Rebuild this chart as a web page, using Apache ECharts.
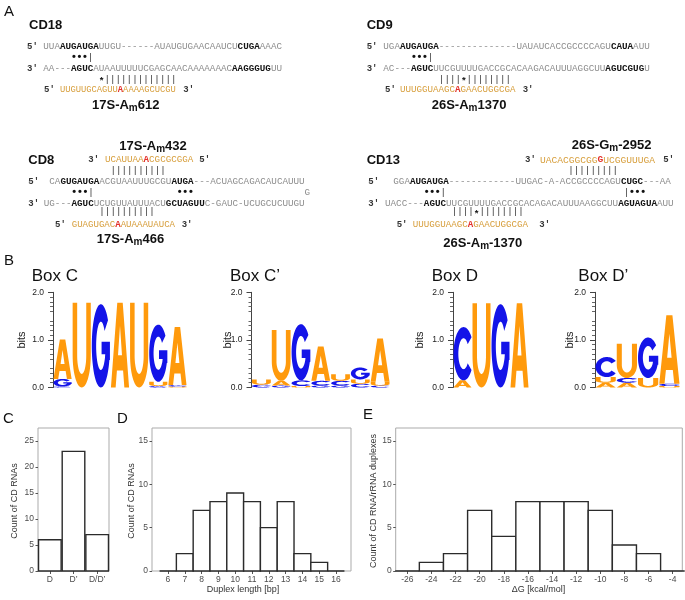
<!DOCTYPE html>
<html>
<head>
<meta charset="utf-8">
<title>C/D box RNAs</title>
<script src="https://cdn.jsdelivr.net/npm/echarts@6.0.0/dist/echarts.min.js"></script>
<style>
  html, body { margin: 0; padding: 0; background: #fff; }
  #chart { width: 685px; height: 600px; }
</style>
</head>
<body>
<div id="chart"></div>
<script>
// panel C: position of the box
const boxTypes = ['D', 'D’', 'D/D’'];
const boxTypeCounts = [6, 23, 7];
const boxCountTicks = [0, 5, 10, 15, 20, 25];

// panel D: duplex length
const duplexLengths = [6, 7, 8, 9, 10, 11, 12, 13, 14, 15, 16];
const duplexCounts = [0, 2, 7, 8, 9, 8, 5, 8, 2, 1, 0];

// panel E: free energy of the duplexes
const dgBins = [-26, -24, -22, -20, -18, -16, -14, -12, -10, -8, -6, -4];
const dgCounts = [0, 1, 2, 7, 4, 8, 8, 8, 7, 3, 2, 0];
const countTicks = [0, 5, 10, 15];

// panel B: logos, letters stacked bottom to top, heights in bits
const logoBoxC = [
  [['C', 0.02], ['G', 0.16], ['A', 0.83]],
  [['U', 1.78]],
  [['G', 1.75]],
  [['A', 1.78]],
  [['U', 1.78]],
  [['C', 0.03], ['U', 0.09], ['G', 1.2]],
  [['U', 0.02], ['C', 0.03], ['A', 1.22]]
];
const logoBoxC2 = [
  [['C', 0.06], ['U', 0.11]],
  [['G', 0.04], ['A', 0.1], ['U', 1.07]],
  [['U', 0.03], ['C', 0.12], ['G', 1.18]],
  [['G', 0.04], ['C', 0.1], ['A', 0.72]],
  [['G', 0.04], ['C', 0.1], ['U', 0.14]],
  [['C', 0.08], ['U', 0.09], ['G', 0.25]],
  [['C', 0.04], ['U', 0.08], ['A', 0.91]]
];
const logoBoxD = [
  [['A', 0.15], ['C', 1.12]],
  [['U', 1.77]],
  [['G', 1.75]],
  [['A', 1.77]]
];
const logoBoxD2 = [
  [['A', 0.1], ['U', 0.12], ['C', 0.42]],
  [['A', 0.1], ['C', 0.1], ['U', 0.72]],
  [['U', 0.2], ['G', 0.85]],
  [['U', 0.03], ['C', 0.05], ['A', 1.44]]
];
const logoTicks = [0, 1, 2];

// panel A: duplexes (g = loop, b = box, o = rRNA, r = modified nt)
const cd18Top = [['g', 'UUA'], ['b', 'AUGAUGA'], ['g', 'UUGU------AUAUGUGAACAAUCU'], ['b', 'CUGA'], ['g', 'AAAC']];
const cd18Bottom = [['g', 'AA---'], ['b', 'AGUC'], ['g', 'AUAAUUUUUCGAGCAACAAAAAAAC'], ['b', 'AAGGGUG'], ['g', 'UU']];
const cd18Rrna = [['o', 'UUGUUGCAGUU'], ['r', 'A'], ['o', 'AAAAGCUCGU']];

const cd9Top = [['g', 'UGA'], ['b', 'AUGAUGA'], ['g', '--------------UAUAUCACCGCCCCAGU'], ['b', 'CAUA'], ['g', 'AUU']];
const cd9Bottom = [['g', 'AC---'], ['b', 'AGUC'], ['g', 'UUCGUUUUGACCGCACAAGACAUUUAGGCUU'], ['b', 'AGUCGUG'], ['g', 'U']];
const cd9Rrna = [['o', 'UUUGGUAAGC'], ['r', 'A'], ['o', 'GAACUGGCGA']];

const cd8Top = [['g', 'CA'], ['b', 'GUGAUGA'], ['g', 'ACGUAAUUUGCGU'], ['b', 'AUGA'], ['g', '---ACUAGCAGACAUCAUUU']];
const cd8Bottom = [['g', 'UG---'], ['b', 'AGUC'], ['g', 'UCUGUUAUUUACU'], ['b', 'GCUAGUU'], ['g', 'C-GAUC-UCUGCUCUUGU']];
const cd8RrnaUp = [['o', 'UCAUUAA'], ['r', 'A'], ['o', 'CGCGCGGA']];
const cd8RrnaDown = [['o', 'GUAGUGAC'], ['r', 'A'], ['o', 'AUAAAUAUCA']];

const cd13Top = [['g', 'GGA'], ['b', 'AUGAUGA'], ['g', '------------UUGAC-A-ACCGCCCCAGU'], ['b', 'CUGC'], ['g', '---AA']];
const cd13Bottom = [['g', 'UACC---'], ['b', 'AGUC'], ['g', 'UUCGUUUUGACCGCACAGACAUUUAAGGCUU'], ['b', 'AGUAGUA'], ['g', 'AUU']];
const cd13RrnaUp = [['o', 'UACACGGCGG'], ['r', 'G'], ['o', 'UCGGUUUGA']];
const cd13RrnaDown = [['o', 'UUUGGUAAGC'], ['r', 'A'], ['o', 'GAACUGGCGA']];

const SANS = '"Liberation Sans", Arial, sans-serif';
const MONO = '"Liberation Mono", "DejaVu Sans Mono", monospace';
const PITCH = 5.55;
const LETTERS = ['A', 'C', 'G', 'U'];
const letterColors = { A: '#ff9a0c', U: '#ff9a0c', C: '#1414e8', G: '#1414e8' };

// letter outlines, stretched into each stack cell
function arcPoints(cx, cy, rx, ry, from, to, steps) {
  const pts = [];
  for (let i = 0; i <= steps; i++) {
    const a = (from + (to - from) * i / steps) * Math.PI / 180;
    pts.push([cx + rx * Math.cos(a), cy + ry * Math.sin(a)]);
  }
  return pts;
}
function outline(pts) {
  return 'M' + pts.map(p => p[0].toFixed(2) + ' ' + p[1].toFixed(2)).join(' L') + ' Z';
}
const glyphs = {
  A: outline([[0, 100], [35, 0], [65, 0], [100, 100], [74, 100], [67, 80], [33, 80], [26, 100]]) + ' ' +
     outline([[39, 62], [61, 62], [50, 27]]),
  C: outline(arcPoints(50, 50, 50, 50, -38, -322, 60).concat(arcPoints(50, 50, 26, 29, 38, 322, 60))),
  G: outline(arcPoints(50, 50, 50, 50, -38, -340, 60)
    .concat([[100, 67], [100, 45], [54, 45], [54, 60], [74, 60]], arcPoints(50, 50, 26, 29, 30, 322, 60))),
  U: outline([[0, 0], [25, 0], [25, 62]]
    .concat(arcPoints(50, 62, 25, 22, 180, 0, 30), [[75, 0], [100, 0], [100, 62]], arcPoints(50, 62, 50, 38, 0, 180, 30)))
};

function logoData(columns) {
  const out = [];
  columns.forEach((stack, pos) => {
    let base = 0;
    stack.forEach(([letter, bits]) => {
      out.push([pos, base, base + bits, LETTERS.indexOf(letter)]);
      base += bits;
    });
  });
  return out;
}

function renderLetter(params, api) {
  const lo = api.coord([api.value(0), api.value(1)]);
  const hi = api.coord([api.value(0) + 1, api.value(2)]);
  const letter = LETTERS[api.value(3)];
  return {
    type: 'path',
    shape: {
      pathData: glyphs[letter],
      x: lo[0] + 0.5, y: hi[1], width: hi[0] - lo[0] - 1, height: Math.max(lo[1] - hi[1], 0.3),
      layout: 'cover'
    },
    style: { fill: letterColors[letter] }
  };
}

const barStyle = { fill: '#fff', stroke: '#2b2b2b', lineWidth: 1.4 };
function binRenderer(width) {
  return function (params, api) {
    const p0 = api.coord([api.value(0) - width / 2, 0]);
    const p1 = api.coord([api.value(0) + width / 2, api.value(1)]);
    return {
      type: 'rect',
      shape: { x: p0[0], y: p1[1], width: p1[0] - p0[0], height: p0[1] - p1[1] },
      style: barStyle
    };
  };
}
function renderCategoryBar(params, api) {
  const p = api.coord([api.value(0), api.value(1)]);
  const base = api.coord([api.value(0), 0]);
  const w = api.size([1, 0])[0] * 0.955;
  return {
    type: 'rect',
    shape: { x: p[0] - w / 2, y: p[1], width: w, height: base[1] - p[1] },
    style: barStyle
  };
}

// ---- text helpers for panel A and labels ----
const elements = [];
function txt(text, x, y, font, fill, align, extra) {
  const el = {
    type: 'text', x: x, y: y, silent: true,
    style: { text: text, font: font, fill: fill || '#111',
      textAlign: align || 'left', textVerticalAlign: 'middle' }
  };
  elements.push(Object.assign(el, extra || {}));
}
function richFor(size) {
  const base = { fontFamily: MONO, fontSize: size };
  return {
    g: Object.assign({ fill: '#8d8d8d', fontWeight: 'normal' }, base),
    b: Object.assign({ fill: '#141414', fontWeight: 'bold' }, base),
    o: Object.assign({ fill: '#d79e3b', fontWeight: 'normal' }, base),
    r: Object.assign({ fill: '#e3302b', fontWeight: 'bold' }, base)
  };
}
function seqLine(x, y, segs, size) {
  elements.push({
    type: 'text', x: x, y: y, silent: true,
    style: {
      text: segs.map(s => '{' + s[0] + '|' + s[1] + '}').join(''),
      rich: richFor(size), font: size + 'px ' + MONO,
      textAlign: 'left', textVerticalAlign: 'middle'
    }
  });
}
function end(label, x, y) {
  txt(label, x, y, 'bold 9px ' + MONO, '#333');
}
function marks(x0, col, y, str) {
  for (let i = 0; i < str.length; i++) {
    const ch = str[i];
    const cx = x0 + (col + i + 0.5) * PITCH;
    if (ch === '|') txt(ch, cx, y, '9.5px ' + SANS, '#3a3a3a', 'center');
    else if (ch === '*') txt(ch, cx, y + 1.5, 'bold 9.5px ' + SANS, '#111', 'center');
    else if (ch === '•') txt(ch, cx, y, 'bold 11px ' + SANS, '#111', 'center');
  }
}
function siteLabel(parts, x, y) {
  elements.push({
    type: 'text', x: x, y: y, silent: true,
    style: {
      text: '{t|' + parts[0] + '}{s|' + parts[1] + '}{t|' + parts[2] + '}',
      font: 'bold 13px ' + SANS,
      rich: {
        t: { fontFamily: SANS, fontWeight: 'bold', fontSize: 13, fill: '#111', lineHeight: 16 },
        s: { fontFamily: SANS, fontWeight: 'bold', fontSize: 10, fill: '#111', verticalAlign: 'bottom', lineHeight: 10 }
      },
      textAlign: 'left', textVerticalAlign: 'middle'
    }
  });
}
const nameFont = 'bold 13px ' + SANS;

// CD18
txt('CD18', 29, 25.5, nameFont);
end('5′', 27, 46.7); seqLine(43.3, 46.7, cd18Top, 9.25);
marks(43.3, 5, 57.3, '•••|');
end('3′', 27, 69); seqLine(43.3, 69, cd18Bottom, 9.25);
marks(43.3, 10, 79, '*|||||||||||||');
end('5′', 44, 89.3); seqLine(60, 89.3, cd18Rrna, 8.77); end('3′', 183.3, 89.3);
siteLabel(['17S-A', 'm', '612'], 92, 105);

// CD9
txt('CD9', 366.7, 25.5, nameFont);
end('5′', 366.7, 46.7); seqLine(383.3, 46.7, cd9Top, 9.25);
marks(383.3, 5, 57.3, '•••|');
end('3′', 366.7, 69); seqLine(383.3, 69, cd9Bottom, 9.25);
marks(383.3, 10, 79, '||||*||||||||');
end('5′', 385, 89.3); seqLine(400, 89.3, cd9Rrna, 9.17); end('3′', 522.7, 89.3);
siteLabel(['26S-A', 'm', '1370'], 431.7, 105);

// CD8
siteLabel(['17S-A', 'm', '432'], 119.3, 146);
txt('CD8', 28.3, 160, nameFont);
end('3′', 88.3, 160); seqLine(105, 160, cd8RrnaUp, 9.2); end('5′', 199.3, 160);
marks(49.3, 11, 170, '||||||||||');
end('5′', 28.3, 181.7); seqLine(49.3, 181.7, cd8Top, 9.25);
marks(49.3, 4, 192.3, '•••|');
marks(49.3, 23, 192.3, '•••');
seqLine(49.3 + 46 * PITCH, 192.3, [['g', 'G']], 9.25);
end('3′', 28.3, 203.3); seqLine(43.75, 203.3, cd8Bottom, 9.25);
marks(49.3, 9, 211.7, '||||||||||');
end('5′', 55, 224.3); seqLine(71.7, 224.3, cd8RrnaDown, 9.07); end('3′', 181.7, 224.3);
siteLabel(['17S-A', 'm', '466'], 96.7, 239.3);

// CD13
siteLabel(['26S-G', 'm', '-2952'], 571.7, 145.3);
txt('CD13', 366.7, 160, nameFont);
end('3′', 525, 160); seqLine(540, 160, cd13RrnaUp, 9.58); end('5′', 663.3, 160);
marks(385, 33, 170, '|||||||||');
end('5′', 368.3, 181.7); seqLine(393.3, 181.7, cd13Top, 9.25);
marks(385, 7, 192.3, '•••|');
marks(385, 43, 192.3, '|•••');
end('3′', 368.3, 203.3); seqLine(385, 203.3, cd13Bottom, 9.25);
marks(385, 12, 211.7, '||||*||||||||');
end('5′', 396.7, 224.3); seqLine(412.7, 224.3, cd13RrnaDown, 9.17); end('3′', 539.3, 224.3);
siteLabel(['26S-A', 'm', '-1370'], 443.3, 243);

// panel letters
const panelFont = '15px ' + SANS;
txt('A', 4, 12, panelFont);
txt('B', 4, 260.5, panelFont);
txt('C', 3, 418.5, panelFont);
txt('D', 117, 418.5, panelFont);
txt('E', 363, 414.5, panelFont);

// logo titles and bits labels
const titleFont = '17px ' + SANS;
txt('Box C', 31.7, 276, titleFont);
txt('Box C’', 230, 276, titleFont);
txt('Box D', 431.7, 276, titleFont);
txt('Box D’', 578.3, 276, titleFont);
[21.5, 227.5, 420, 570].forEach(x => txt('bits', x, 340, '11px ' + SANS, '#222', 'center', { rotation: Math.PI / 2 }));

// histogram axis names
const axisNameFont = '9px ' + SANS;
txt('Count of CD RNAs', 15, 501, axisNameFont, '#333', 'center', { rotation: Math.PI / 2 });
txt('Count of CD RNAs', 132, 501, axisNameFont, '#333', 'center', { rotation: Math.PI / 2 });
txt('Count of CD RNA/rRNA duplexes', 373.3, 501, axisNameFont, '#333', 'center', { rotation: Math.PI / 2 });
txt('Duplex length [bp]', 243, 589.5, axisNameFont, '#333', 'center');
txt('ΔG [kcal/mol]', 538.5, 589.5, axisNameFont, '#333', 'center');

// ---- grids and axes ----
const logoGrids = [
  { left: 53, width: 134, cols: logoBoxC },
  { left: 251.5, width: 138.5, cols: logoBoxC2 },
  { left: 453, width: 76, cols: logoBoxD },
  { left: 595, width: 85, cols: logoBoxD2 }
];
const grids = [];
const xAxes = [];
const yAxes = [];
const series = [];

logoGrids.forEach((g, k) => {
  grids.push({ left: g.left, top: 292.3, width: g.width, height: 95.2, outerBoundsMode: 'none' });
  xAxes.push({ gridIndex: k, type: 'value', min: 0, max: g.cols.length, show: false });
  yAxes.push({
    gridIndex: k, type: 'value', min: 0, max: 2, offset: 1,
    axisLine: { show: true, lineStyle: { color: '#444', width: 1 } },
    axisTick: { show: true, length: 5, customValues: logoTicks, lineStyle: { color: '#444' } },
    minorTick: { show: true, splitNumber: 5, length: 3, lineStyle: { color: '#666' } },
    splitLine: { show: false },
    axisLabel: { customValues: logoTicks, formatter: v => v.toFixed(1), fontSize: 8.5, color: '#222', margin: 8, fontFamily: SANS }
  });
  series.push({
    type: 'custom', xAxisIndex: k, yAxisIndex: k, clip: false,
    renderItem: renderLetter, data: logoData(g.cols)
  });
});

const histFrame = { show: true, borderColor: '#ababab', borderWidth: 1, backgroundColor: 'transparent', outerBoundsMode: 'none' };
const tickLabel = { fontSize: 8.5, color: '#4d4d4d', fontFamily: SANS };

// C
grids.push(Object.assign({ left: 38, top: 428, width: 71, height: 143 }, histFrame));
xAxes.push({
  gridIndex: 4, type: 'category', data: boxTypes,
  axisLine: { show: false },
  axisTick: { show: true, alignWithLabel: true, length: 3, lineStyle: { color: '#555' } },
  axisLabel: Object.assign({ margin: 4 }, tickLabel)
});
yAxes.push({
  gridIndex: 4, type: 'value', min: 0, max: 27.5,
  axisLine: { show: false }, splitLine: { show: false },
  axisTick: { show: true, length: 2.5, customValues: boxCountTicks, lineStyle: { color: '#555' } },
  axisLabel: Object.assign({ customValues: boxCountTicks, margin: 4 }, tickLabel)
});
series.push({
  type: 'custom', xAxisIndex: 4, yAxisIndex: 4, clip: false,
  renderItem: renderCategoryBar, data: boxTypeCounts.map((v, i) => [i, v])
});

// D
grids.push(Object.assign({ left: 152, top: 428, width: 199, height: 143 }, histFrame));
xAxes.push({
  gridIndex: 5, type: 'value', min: 5.05, max: 16.89,
  axisLine: { show: false }, splitLine: { show: false },
  axisTick: { show: true, length: 3, customValues: duplexLengths, lineStyle: { color: '#555' } },
  axisLabel: Object.assign({ customValues: duplexLengths, margin: 4 }, tickLabel)
});
yAxes.push({
  gridIndex: 5, type: 'value', min: 0, max: 16.5,
  axisLine: { show: false }, splitLine: { show: false },
  axisTick: { show: true, length: 2.5, customValues: countTicks, lineStyle: { color: '#555' } },
  axisLabel: Object.assign({ customValues: countTicks, margin: 4 }, tickLabel)
});
series.push({
  type: 'custom', xAxisIndex: 5, yAxisIndex: 5, clip: false,
  renderItem: binRenderer(1), data: duplexLengths.map((x, i) => [x, duplexCounts[i]])
});

// E
grids.push(Object.assign({ left: 395.7, top: 428, width: 286.6, height: 143 }, histFrame));
xAxes.push({
  gridIndex: 6, type: 'value', min: -26.96, max: -3.2,
  axisLine: { show: false }, splitLine: { show: false },
  axisTick: { show: true, length: 3, customValues: dgBins, lineStyle: { color: '#555' } },
  axisLabel: Object.assign({ customValues: dgBins, margin: 4 }, tickLabel)
});
yAxes.push({
  gridIndex: 6, type: 'value', min: 0, max: 16.5,
  axisLine: { show: false }, splitLine: { show: false },
  axisTick: { show: true, length: 2.5, customValues: countTicks, lineStyle: { color: '#555' } },
  axisLabel: Object.assign({ customValues: countTicks, margin: 4 }, tickLabel)
});
series.push({
  type: 'custom', xAxisIndex: 6, yAxisIndex: 6, clip: false,
  renderItem: binRenderer(2), data: dgBins.map((x, i) => [x, dgCounts[i]])
});

const chart = echarts.init(document.getElementById('chart'));
chart.setOption({
  animation: false,
  backgroundColor: '#fff',
  textStyle: { fontFamily: SANS },
  grid: grids,
  xAxis: xAxes,
  yAxis: yAxes,
  series: series,
  graphic: { elements: elements }
});

window.onresize = function () {
  chart.resize();
};
</script>
</body>
</html>
